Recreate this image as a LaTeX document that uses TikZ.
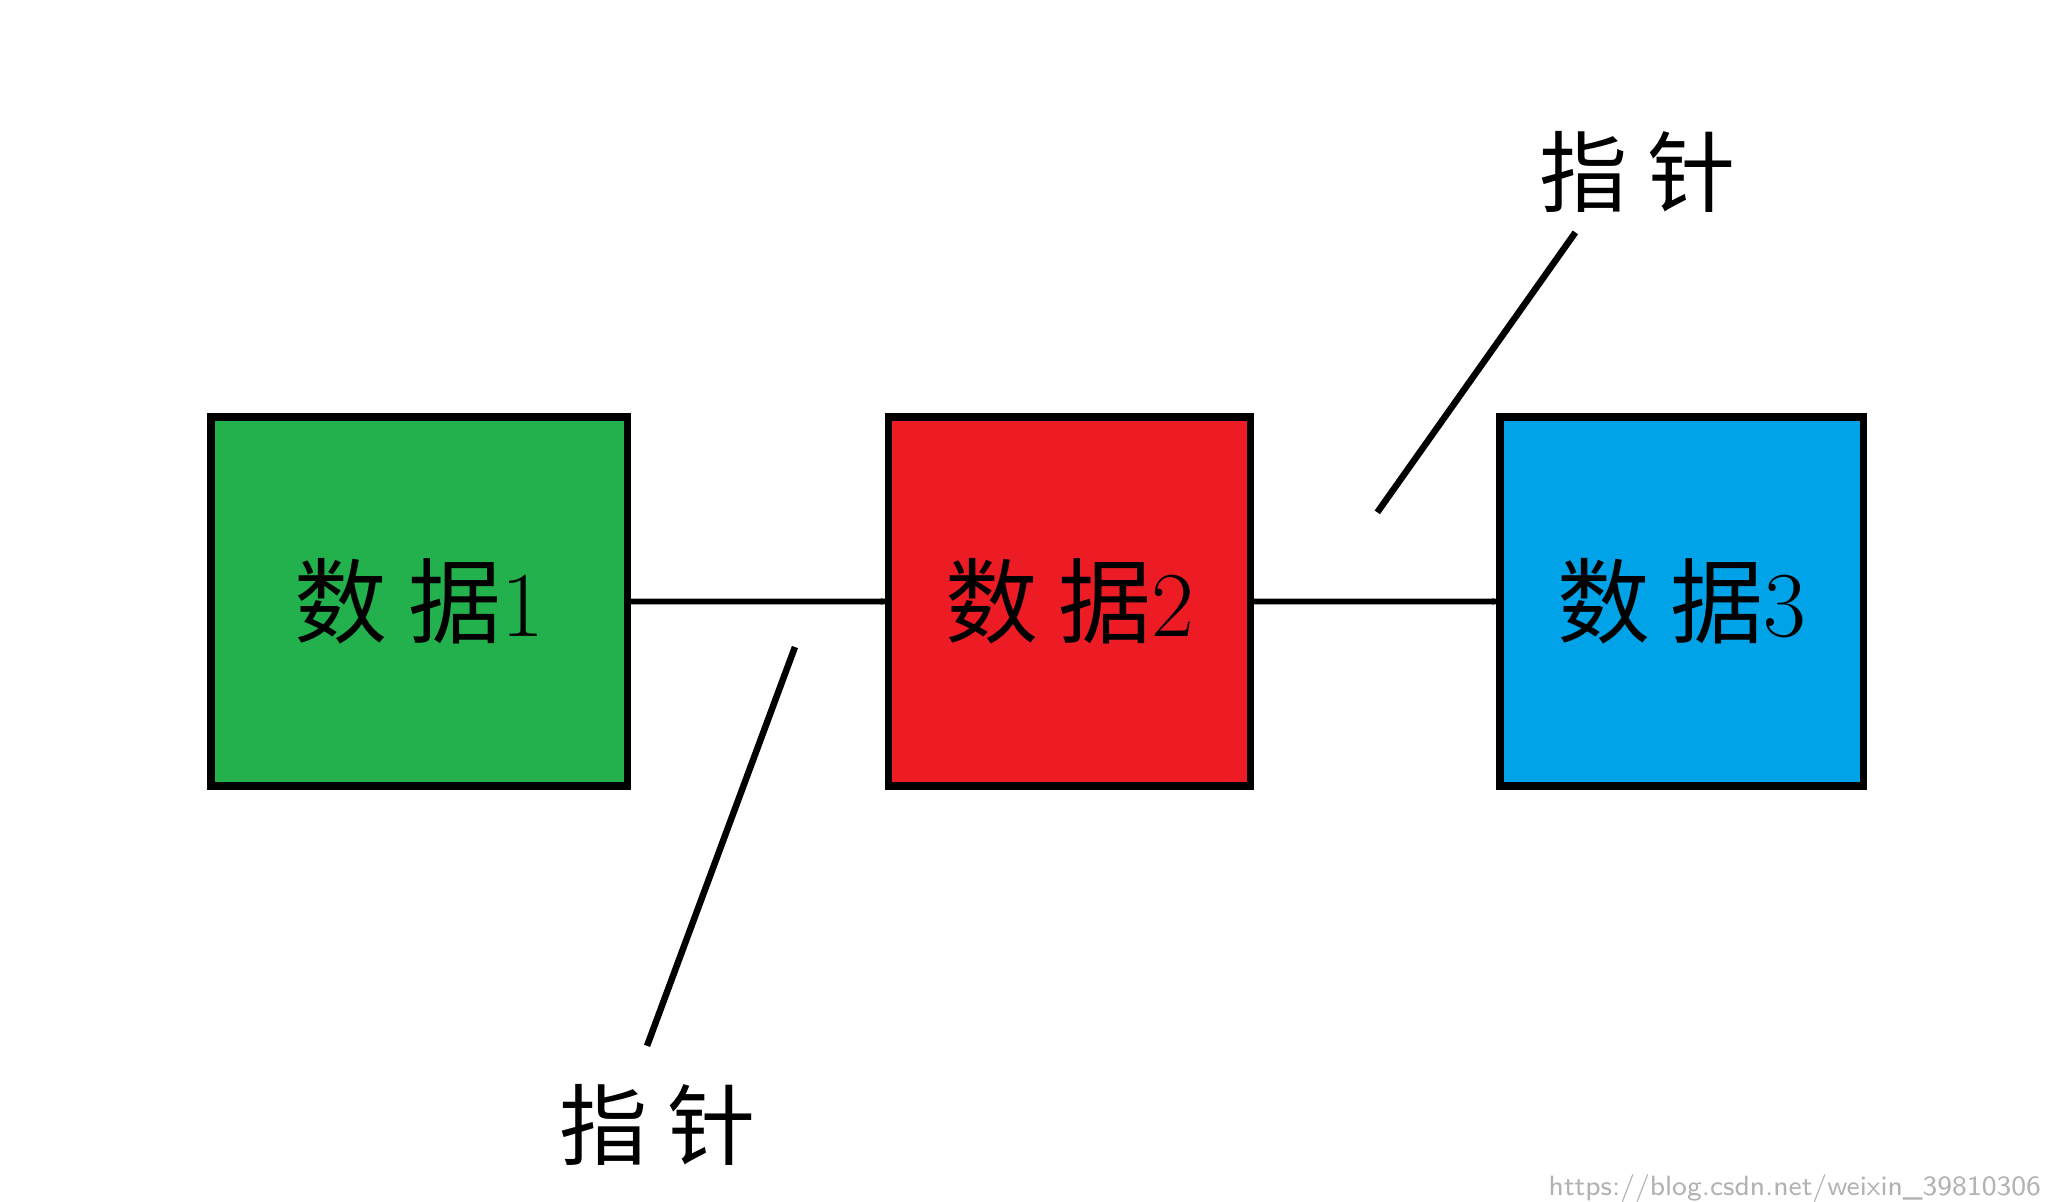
\documentclass[tikz,border=0pt]{standalone}
\usepackage{fontspec}
\newfontfamily\cjk{Noto Sans CJK SC}
\usetikzlibrary{calc}
\definecolor{gbox}{HTML}{22B14C}
\definecolor{rbox}{HTML}{ED1C24}
\definecolor{bbox}{HTML}{00A2E8}
\definecolor{arr}{HTML}{C8BFE7}
\tikzset{databox/.style={draw=black,line width=1.6pt,minimum width=3.15cm,minimum height=2.79cm,inner sep=0pt,font=\fontsize{20}{24}\selectfont},
lbl/.style={font=\cjk\fontsize{19}{22}\selectfont,inner sep=0pt},
ptr/.style={line width=1.4pt}}
\newcommand{\fatarrow}[2]{%
 \path (#1.east) coordinate (s) (#2.west) coordinate (e);
 \draw[fill=arr,line width=1.2pt] ($(s)+(0.06,0.05)$) -- ($(e)+(-0.98,0.05)$) -- ($(e)+(-0.98,0.09)$) -- (e) -- ($(e)+(-0.98,-0.1)$) -- ($(e)+(-0.98,-0.05)$) -- ($(s)+(0.06,-0.05)$) -- cycle;}
\begin{document}
\begin{tikzpicture}[x=0.01cm,y=-0.01cm]
\useasboundingbox (0,0) rectangle (1560,910);
\node[databox,fill=gbox,minimum width=3.15cm] (g) at (317.5,455.5) {{\cjk 数 据}1};
\node[databox,fill=rbox,minimum width=2.74cm] (r) at (810,455.5) {{\cjk 数 据}2};
\node[databox,fill=bbox,minimum width=2.75cm] (b) at (1273.5,455.5) {{\cjk 数 据}3};
\fatarrow{g}{r}
\fatarrow{r}{b}
\node[lbl] (l1) at (498,852) {指 针};
\node[lbl] (l2) at (1240,130) {指 针};
\coordinate (p1) at (602,490);
\coordinate (p2) at (1043,388);
\draw[ptr] (p1) -- (490,792);
\draw[ptr] (p2) -- (1193,176);
\node[text=black!30,font=\sffamily\fontsize{6}{7}\selectfont,anchor=east] (wm) at (1558,900) {https://blog.csdn.net/weixin\_39810306};
\end{tikzpicture}
\end{document}
